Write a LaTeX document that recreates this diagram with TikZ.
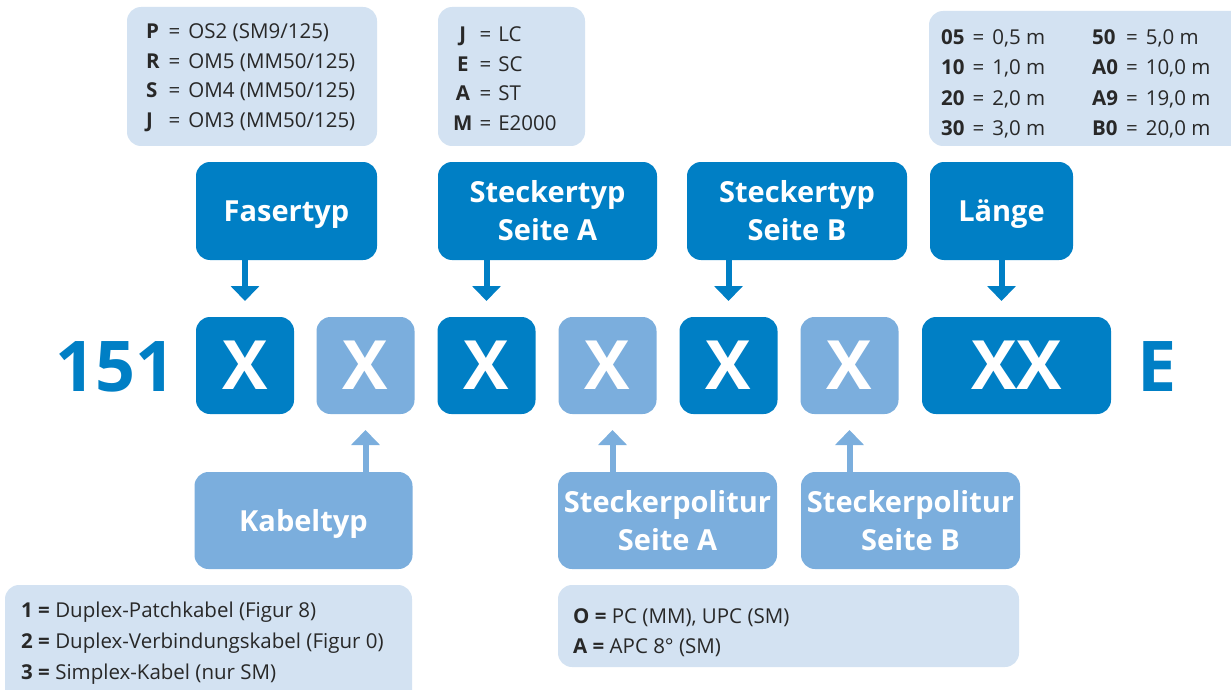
\documentclass[tikz,border=0pt]{standalone}
\usepackage{fontspec}
\setmainfont{Open Sans}
\usetikzlibrary{arrows.meta}
\definecolor{dblue}{RGB}{0,127,197}
\definecolor{lblue}{RGB}{123,174,221}
\definecolor{pale}{RGB}{211,226,242}
\definecolor{txt}{RGB}{40,40,40}
\begin{document}
\begin{tikzpicture}[x=1pt,y=-1pt,
  hdr/.style={rounded corners=14pt, text=white, align=center, inner sep=0pt, outer sep=0pt,
    font=\fontsize{29}{38}\selectfont\bfseries},
  darkhdr/.style={hdr, fill=dblue},
  lighthdr/.style={hdr, fill=lblue},
  oneline/.style={text height=21pt, text depth=0pt},
  xbox/.style={rounded corners=14pt, text=white, inner sep=0pt, outer sep=0pt,
    minimum width=98pt, minimum height=97pt, font=\fontsize{68}{70}\selectfont\bfseries},
  palebox/.style={fill=pale, rounded corners=14pt},
  lbl/.style={text=txt, inner sep=0pt, anchor=west, font=\fontsize{20.5}{29.5}\selectfont},
  darrow/.style={draw=dblue, line width=6pt, -{Triangle[width=28pt,length=15pt]}},
  larrow/.style={draw=lblue, line width=6pt, -{Triangle[width=28pt,length=15pt]}},
  big/.style={text=dblue, inner sep=0pt, font=\fontsize{70}{72}\selectfont\bfseries}
]
\useasboundingbox (0,0) rectangle (1231,690);
\clip (0,0) rectangle (1231,690);

% pale legend boxes
\fill[palebox] (127,7) rectangle (377,146);
\fill[palebox] (438,7) rectangle (585,146);
\fill[palebox] (929,11) rectangle (1260,146);
\fill[palebox] (5,585) rectangle (412,705);
\fill[palebox] (558,585) rectangle (1019,667);

% legend texts
\node[lbl] (tfaser) at (146,77) {\begin{tabular}{@{}l@{\hspace{9pt}=\hspace{8pt}}l@{}}
  \textbf{P} & OS2 (SM9/125)\\
  \textbf{R} & OM5 (MM50/125)\\
  \textbf{S} & OM4 (MM50/125)\\
  \textbf{J} & OM3 (MM50/125)\end{tabular}};
\node[lbl] (tstecker) at (453,80) {\begin{tabular}{@{}c@{\hspace{7pt}=\hspace{7pt}}l@{}}
  \textbf{J} & LC\\
  \textbf{E} & SC\\
  \textbf{A} & ST\\
  \textbf{M} & E2000\end{tabular}};
\node[lbl, font=\fontsize{20.5}{30.3}\selectfont] (tlaengeA) at (941,84) {\begin{tabular}{@{}l@{\hspace{8pt}=\hspace{8pt}}l@{}}
  \textbf{05} & 0,5 m\\
  \textbf{10} & 1,0 m\\
  \textbf{20} & 2,0 m\\
  \textbf{30} & 3,0 m\end{tabular}};
\node[lbl, font=\fontsize{20.5}{30.3}\selectfont] (tlaengeB) at (1092,84) {\begin{tabular}{@{}l@{\hspace{8pt}=\hspace{8pt}}l@{}}
  \textbf{50} & 5,0 m\\
  \textbf{A0} & 10,0 m\\
  \textbf{A9} & 19,0 m\\
  \textbf{B0} & 20,0 m\end{tabular}};
\node[lbl, font=\fontsize{20.5}{31}\selectfont] (tkabel) at (21,642) {\begin{tabular}{@{}l@{}}
  \textbf{1 =} Duplex-Patchkabel (Figur 8)\\
  \textbf{2 =} Duplex-Verbindungskabel (Figur 0)\\
  \textbf{3 =} Simplex-Kabel (nur SM)\end{tabular}};
\node[lbl, font=\fontsize{20.5}{30}\selectfont] (tpolitur) at (573,632) {\begin{tabular}{@{}l@{}}
  \textbf{O =} PC (MM), UPC (SM)\\
  \textbf{A =} APC 8° (SM)\end{tabular}};

% header boxes
\node[darkhdr, oneline, minimum width=181pt, minimum height=98pt] (faser) at (286.5,211) {Fasertyp};
\node[darkhdr, minimum width=219pt, minimum height=98pt] (stA) at (547.5,211) {Steckertyp\\Seite A};
\node[darkhdr, minimum width=220pt, minimum height=98pt] (stB) at (797,211) {Steckertyp\\Seite B};
\node[darkhdr, oneline, minimum width=143pt, minimum height=98pt] (laenge) at (1001.5,211) {Länge};

\node[lighthdr, oneline, minimum width=218pt, minimum height=97pt] (kabel) at (303.5,520.5) {Kabeltyp};
\node[lighthdr, minimum width=219pt, minimum height=97pt] (polA) at (667.5,520.5) {Steckerpolitur\\Seite A};
\node[lighthdr, minimum width=219pt, minimum height=97pt] (polB) at (910.5,520.5) {Steckerpolitur\\Seite B};

% code row
\node[big] (pre) at (115,367) {151};
\node[xbox, fill=dblue] (x1) at (245,365.5) {X};
\node[xbox, fill=lblue] (x2) at (365.5,365.5) {X};
\node[xbox, fill=dblue] (x3) at (486.5,365.5) {X};
\node[xbox, fill=lblue] (x4) at (607.5,365.5) {X};
\node[xbox, fill=dblue] (x5) at (728.5,365.5) {X};
\node[xbox, fill=lblue] (x6) at (849.5,365.5) {X};
\node[xbox, fill=dblue, minimum width=189pt] (xx) at (1016.5,365.5) {XX};
\node[big] (suf) at (1157,367) {E};

% arrows down
\draw[darrow, shorten >=16pt] (faser.south -| x1.north) -- (x1.north);
\draw[darrow, shorten >=16pt] (stA.south -| x3.north) -- (x3.north);
\draw[darrow, shorten >=16pt] (stB.south -| x5.north) -- (x5.north);
\draw[darrow, shorten >=16pt] (laenge.south) -- (laenge.south |- xx.north);

% arrows up
\draw[larrow, shorten >=16pt] (kabel.north -| x2.south) -- (x2.south);
\draw[larrow, shorten >=16pt] ([xshift=5pt]polA.north -| x4.south) -- ([xshift=5pt]x4.south);
\draw[larrow, shorten >=16pt] (polB.north -| x6.south) -- (x6.south);
\end{tikzpicture}
\end{document}
